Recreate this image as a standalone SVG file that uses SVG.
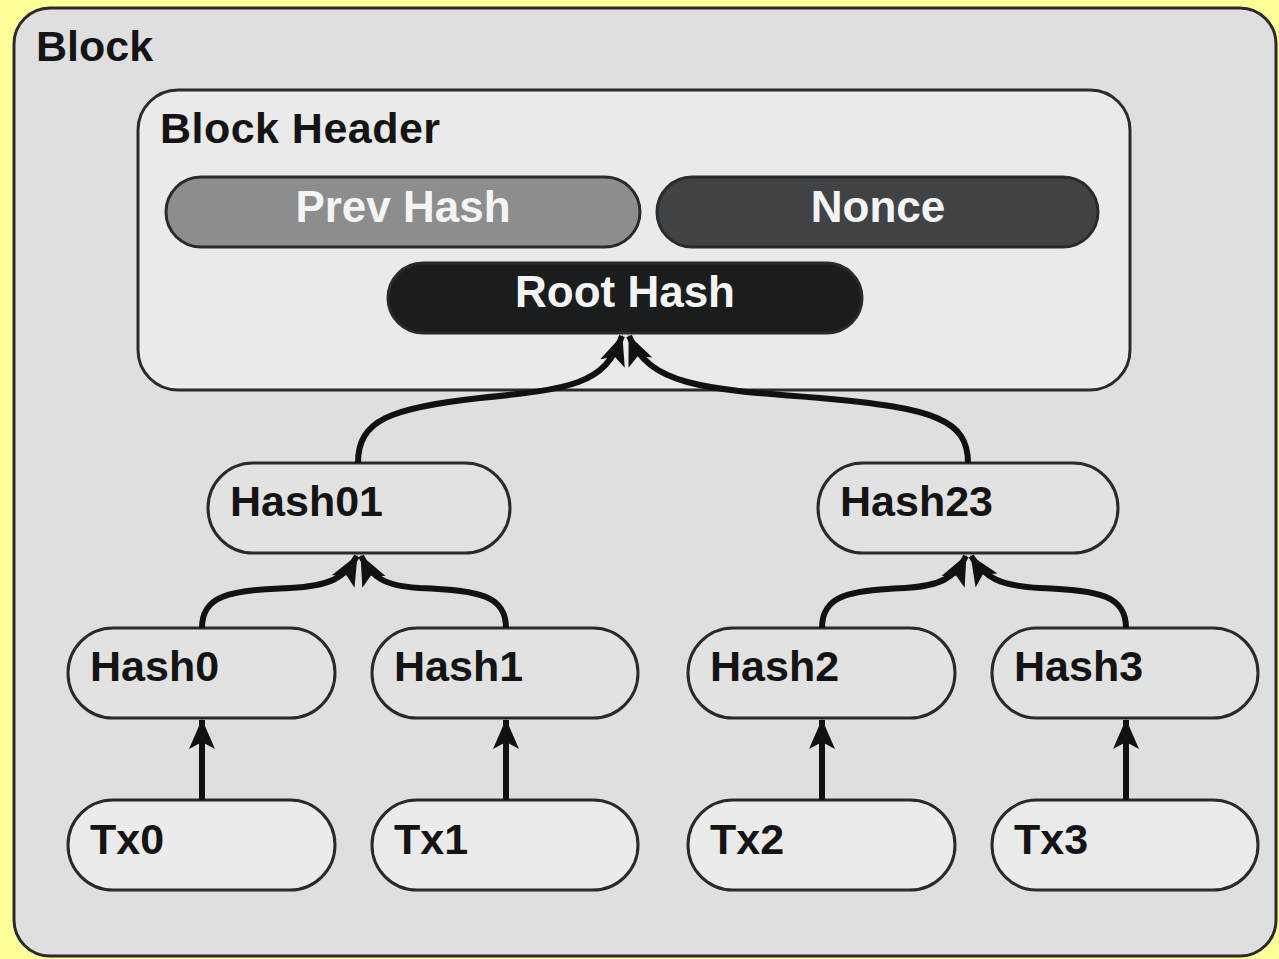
<svg xmlns="http://www.w3.org/2000/svg" width="1279" height="959" viewBox="0 0 1279 959">
  <defs>
    <marker id="arrow" markerUnits="userSpaceOnUse" markerWidth="32" markerHeight="28" refX="29" refY="14" orient="auto">
      <path d="M0,1 L30,14 L0,27 L7,14 z" fill="#111"/>
    </marker>
  </defs>
  <style>
    .frame { stroke: #2a2a2a; stroke-width: 3; }
    .label { font-family: "Liberation Sans", Arial, sans-serif; font-weight: bold; font-size: 43px; fill: #141414; }
    .pill-label { font-family: "Liberation Sans", Arial, sans-serif; font-weight: bold; font-size: 44px; fill: #f4f4f4; text-anchor: middle; }
    .hash { fill: #e2e2e2; }
    .tx { fill: #ebebeb; }
    .link { fill: none; stroke: #111; stroke-width: 6; marker-end: url(#arrow); }
  </style>

  <!-- page background -->
  <rect x="0" y="0" width="1279" height="959" fill="#ffff99"/>

  <!-- outer block container -->
  <g id="block">
    <rect class="frame" x="14" y="8" width="1262" height="948" rx="36" fill="#dfdfdf"/>
    <text class="label" x="36" y="61">Block</text>
  </g>

  <!-- block header container -->
  <g id="block-header">
    <rect class="frame" x="138" y="90" width="992" height="300" rx="40" fill="#eaeaea"/>
    <text class="label" x="160" y="143" textLength="280">Block Header</text>
  </g>

  <g id="prev-hash">
    <rect class="frame" x="166" y="177" width="474" height="70" rx="35" fill="#8d8d8d"/>
    <text class="pill-label" x="403" y="222">Prev Hash</text>
  </g>

  <g id="nonce">
    <rect class="frame" x="657" y="177" width="441" height="70" rx="35" fill="#404345"/>
    <text class="pill-label" x="878" y="222">Nonce</text>
  </g>

  <g id="root-hash">
    <rect class="frame" x="388" y="263" width="474" height="70" rx="35" fill="#1b1c1e"/>
    <text class="pill-label" x="625" y="307">Root Hash</text>
  </g>

  <!-- intermediate hashes -->
  <g id="hash01">
    <rect class="frame hash" x="208" y="463" width="302" height="90" rx="45"/>
    <text class="label" x="230" y="516">Hash01</text>
  </g>
  <g id="hash23">
    <rect class="frame hash" x="818" y="463" width="300" height="90" rx="45"/>
    <text class="label" x="840" y="516">Hash23</text>
  </g>

  <!-- leaf hashes -->
  <g id="hash0">
    <rect class="frame hash" x="68" y="628" width="267" height="90" rx="45"/>
    <text class="label" x="90" y="681">Hash0</text>
  </g>
  <g id="hash1">
    <rect class="frame hash" x="372" y="628" width="266" height="90" rx="45"/>
    <text class="label" x="394" y="681">Hash1</text>
  </g>
  <g id="hash2">
    <rect class="frame hash" x="688" y="628" width="267" height="90" rx="45"/>
    <text class="label" x="710" y="681">Hash2</text>
  </g>
  <g id="hash3">
    <rect class="frame hash" x="992" y="628" width="266" height="90" rx="45"/>
    <text class="label" x="1014" y="681">Hash3</text>
  </g>

  <!-- transactions -->
  <g id="tx0">
    <rect class="frame tx" x="68" y="800" width="267" height="90" rx="45"/>
    <text class="label" x="90" y="854">Tx0</text>
  </g>
  <g id="tx1">
    <rect class="frame tx" x="372" y="800" width="266" height="90" rx="45"/>
    <text class="label" x="394" y="854">Tx1</text>
  </g>
  <g id="tx2">
    <rect class="frame tx" x="688" y="800" width="267" height="90" rx="45"/>
    <text class="label" x="710" y="854">Tx2</text>
  </g>
  <g id="tx3">
    <rect class="frame tx" x="992" y="800" width="266" height="90" rx="45"/>
    <text class="label" x="1014" y="854">Tx3</text>
  </g>

  <!-- connectors -->
  <g id="connectors">
    <!-- tx to leaf hash -->
    <path class="link" d="M202,800 L202,720"/>
    <path class="link" d="M506,800 L506,720"/>
    <path class="link" d="M822,800 L822,720"/>
    <path class="link" d="M1126,800 L1126,720"/>

    <!-- leaf hashes to pair hashes -->
    <path class="link" d="M202,628 C202,596 228,590 290,588 C330,586 345,578 357,556"/>
    <path class="link" d="M506,628 C506,596 480,590 420,588 C385,586 372,578 361,556"/>
    <path class="link" d="M822,628 C822,596 848,590 905,588 C940,586 955,578 966,556"/>
    <path class="link" d="M1126,628 C1126,596 1100,590 1040,588 C1000,586 985,578 971,556"/>

    <!-- pair hashes to root -->
    <path class="link" d="M358,463 C358,420 390,408 480,398 C570,389 605,385 622,336"/>
    <path class="link" d="M968,463 C968,420 935,408 820,398 C700,389 650,385 629,336"/>
  </g>
</svg>
